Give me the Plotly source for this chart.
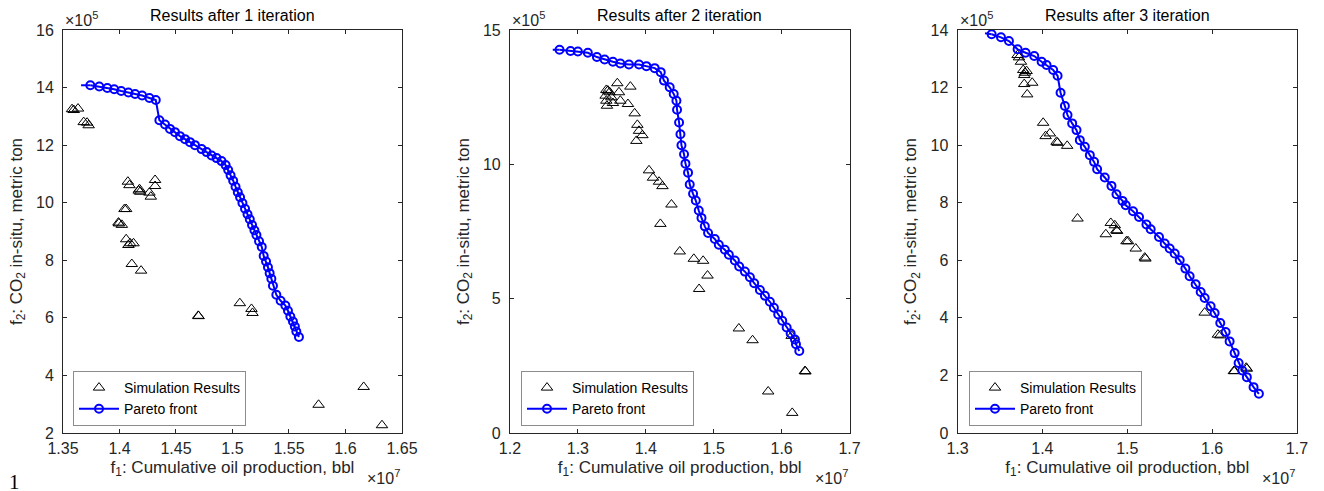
import plotly.graph_objects as go

# ---------------- data (x in 1e7 bbl, y in 1e5 metric ton) ----------------
titles = ["Results after 1 iteration", "Results after 2 iteration", "Results after 3 iteration"]

# Panel 1
sim1_x = [1.3580, 1.3595, 1.3633, 1.3683, 1.3713, 1.3727,
          1.4074, 1.4088, 1.4177, 1.4183, 1.4170, 1.4315, 1.4315, 1.4265, 1.4277,
          1.4044, 1.4059, 1.3991, 1.4021, 1.3995, 1.4059, 1.4094, 1.4124, 1.4079,
          1.4109, 1.4191, 1.4697, 1.4700, 1.5065, 1.5168, 1.5177, 1.6161, 1.5762, 1.6323]
sim1_y = [13.25, 13.22, 13.27, 12.80, 12.78, 12.69,
          10.73, 10.61, 10.47, 10.38, 10.42, 10.79, 10.58, 10.35, 10.21,
          9.78, 9.78, 9.31, 9.23, 9.28, 8.73, 8.59, 8.59, 8.53,
          7.87, 7.64, 6.07, 6.06, 6.51, 6.31, 6.17, 3.60, 2.98, 2.27]
lead1 = [1.366, 14.08]
front1_x = [1.3742, 1.3821, 1.3892, 1.3953, 1.4015, 1.4079, 1.4138, 1.4200, 1.4265, 1.4321,
            1.4353, 1.4403, 1.4447, 1.4491, 1.4535, 1.4580, 1.4624, 1.4668, 1.4727, 1.4771,
            1.4815, 1.4859, 1.4903, 1.4939, 1.4962, 1.4983, 1.5006, 1.5027, 1.5047, 1.5067,
            1.5088, 1.5111, 1.5133, 1.5153, 1.5173, 1.5194, 1.5212, 1.5235, 1.5259, 1.5276,
            1.5297, 1.5314, 1.5329, 1.5344, 1.5358, 1.5388, 1.5426, 1.5468, 1.5491, 1.5512,
            1.5535, 1.5552, 1.5565, 1.5588]
front1_y = [14.08, 14.035, 13.986, 13.941, 13.882, 13.827, 13.778, 13.723, 13.640, 13.570,
            12.867, 12.718, 12.565, 12.451, 12.312, 12.208, 12.104, 12.000, 11.862, 11.758,
            11.643, 11.550, 11.446, 11.307, 11.134, 10.950, 10.763, 10.555, 10.361, 10.187,
            9.990, 9.792, 9.598, 9.425, 9.227, 9.044, 8.881, 8.662, 8.465, 8.153,
            7.955, 7.761, 7.553, 7.356, 7.113, 6.801, 6.593, 6.430, 6.247, 6.049,
            5.876, 5.702, 5.529, 5.335]

# Panel 2
sim2_x = [1.3419, 1.3442, 1.3409, 1.3419, 1.3428, 1.3468, 1.3493, 1.3516, 1.3581, 1.3605,
          1.3625, 1.3773, 1.3737, 1.3836, 1.3876, 1.3900, 1.3950, 1.3861, 1.4047, 1.4106,
          1.4195, 1.4245, 1.4378, 1.4215, 1.4500, 1.4707, 1.4844, 1.4909, 1.4785, 1.5370,
          1.5572, 1.6148, 1.6343, 1.6350, 1.5802, 1.6156]
sim2_y = [12.769, 12.743, 12.555, 12.368, 12.181, 12.683, 12.495, 12.282, 13.019, 12.683,
          12.368, 12.892, 12.245, 11.897, 11.470, 11.246, 11.085, 10.872, 9.776, 9.502,
          9.353, 9.188, 8.504, 7.782, 6.757, 6.483, 6.409, 5.859, 5.361, 3.891,
          3.453, 3.614, 2.305, 2.290, 1.545, 0.748]
lead2 = [1.263, 14.265]
front2_x = [1.2730, 1.2892, 1.3000, 1.3147, 1.3280, 1.3394, 1.3516, 1.3625, 1.3752, 1.3900,
            1.4009, 1.4131, 1.4220, 1.4268, 1.4352, 1.4411, 1.4451, 1.4460, 1.4490, 1.4510,
            1.4525, 1.4563, 1.4584, 1.4622, 1.4647, 1.4696, 1.4736, 1.4780, 1.4820, 1.4869,
            1.4917, 1.5016, 1.5075, 1.5164, 1.5223, 1.5311, 1.5375, 1.5459, 1.5533, 1.5596,
            1.5680, 1.5754, 1.5827, 1.5886, 1.5950, 1.6009, 1.6074, 1.6133, 1.6196, 1.6211,
            1.6260]
front2_y = [14.265, 14.216, 14.201, 14.153, 13.992, 13.902, 13.816, 13.752, 13.715, 13.715,
            13.655, 13.580, 13.431, 13.116, 12.869, 12.619, 12.368, 12.032, 11.560, 11.122,
            10.711, 10.374, 10.026, 9.690, 9.252, 8.904, 8.653, 8.279, 8.006, 7.692,
            7.445, 7.220, 7.007, 6.820, 6.633, 6.420, 6.195, 6.008, 5.799, 5.574,
            5.324, 5.110, 4.886, 4.661, 4.415, 4.175, 3.928, 3.704, 3.479, 3.303,
            3.053]

# Panel 3
sim3_x = [1.3708, 1.3724, 1.3747, 1.3774, 1.3794, 1.3786, 1.3814, 1.3786, 1.3880, 1.3821,
          1.4009, 1.4038, 1.4088, 1.4167, 1.4179, 1.4292, 1.4414, 1.4806, 1.4853, 1.4747,
          1.4873, 1.4880, 1.4991, 1.5009, 1.5100, 1.5206, 1.5214, 1.5912, 1.6068, 1.6096,
          1.6256, 1.6265, 1.6402, 1.6409]
sim3_y = [13.130, 13.050, 12.897, 12.609, 12.515, 12.435, 12.574, 12.122, 12.167, 11.763,
          10.776, 10.313, 10.407, 10.115, 10.080, 9.976, 7.450, 7.297, 7.217, 6.904,
          7.043, 7.019, 6.661, 6.661, 6.407, 6.094, 6.059, 4.181, 3.416, 3.391,
          2.150, 2.150, 2.268, 2.233]
lead3 = [1.3324, 13.885]
front3_x = [1.3402, 1.3512, 1.3606, 1.3708, 1.3802, 1.3904, 1.3991, 1.4049, 1.4127, 1.4179,
            1.4214, 1.4265, 1.4296, 1.4351, 1.4402, 1.4441, 1.4500, 1.4559, 1.4609, 1.4645,
            1.4735, 1.4814, 1.4873, 1.4944, 1.4982, 1.5068, 1.5139, 1.5226, 1.5276, 1.5374,
            1.5441, 1.5500, 1.5559, 1.5618, 1.5685, 1.5735, 1.5806, 1.5865, 1.5912, 1.5982,
            1.6029, 1.6096, 1.6159, 1.6206, 1.6265, 1.6312, 1.6355, 1.6409, 1.6488, 1.6551]
front3_y = [13.850, 13.746, 13.617, 13.329, 13.210, 13.096, 12.897, 12.783, 12.609, 12.410,
            11.819, 11.357, 11.043, 10.755, 10.522, 10.174, 9.941, 9.652, 9.419, 9.165,
            8.877, 8.584, 8.296, 8.063, 7.913, 7.704, 7.506, 7.242, 7.078, 6.810,
            6.581, 6.407, 6.233, 6.000, 5.711, 5.443, 5.165, 4.897, 4.689, 4.400,
            4.167, 3.819, 3.506, 3.183, 2.776, 2.428, 2.174, 1.941, 1.593, 1.363]

# axes ticks
x1_ticks = [1.35, 1.40, 1.45, 1.50, 1.55, 1.60, 1.65]
x1_text = ["1.35", "1.4", "1.45", "1.5", "1.55", "1.6", "1.65"]
y1_ticks = [2, 4, 6, 8, 10, 12, 14, 16]
x2_ticks = [1.2, 1.3, 1.4, 1.5, 1.6, 1.7]
x2_text = ["1.2", "1.3", "1.4", "1.5", "1.6", "1.7"]
y2_ticks = [0, 5, 10, 15]
x3_ticks = [1.3, 1.4, 1.5, 1.6, 1.7]
x3_text = ["1.3", "1.4", "1.5", "1.6", "1.7"]
y3_ticks = [0, 2, 4, 6, 8, 10, 12, 14]

x_ranges = [[1.35, 1.65], [1.2, 1.7], [1.3, 1.7]]
y_ranges = [[2, 16], [0, 15], [0, 14]]

# ---------------- figure ----------------
W, H = 1324, 491
ML, MR, MT, MB = 63, 27, 30, 58
PW, PH = W - ML - MR, H - MT - MB
BOT = H - MB  # pixel row of the x axes
FONT = "Liberation Sans, Arial, Helvetica, sans-serif"
TXT = "#262626"


def py(p):
    """pixel row -> paper y"""
    return (BOT - p) / PH


def px(p):
    """pixel column -> paper x"""
    return (p - ML) / PW


domains = [[0.0, 0.2747], [0.3622, 0.6374], [0.7249, 1.0]]

panels = [
    (sim1_x, sim1_y, lead1, front1_x, front1_y, x1_ticks, x1_text, y1_ticks),
    (sim2_x, sim2_y, lead2, front2_x, front2_y, x2_ticks, x2_text, y2_ticks),
    (sim3_x, sim3_y, lead3, front3_x, front3_y, x3_ticks, x3_text, y3_ticks),
]

fig = go.Figure()
BLUE = "rgb(0,0,255)"

for i, (sx, sy, lead, fx, fy, xt, xtt, yt) in enumerate(panels):
    s = "" if i == 0 else str(i + 1)
    lg = "legend" + s
    fig.add_trace(go.Scatter(
        x=sx, y=sy, mode="markers", name="Simulation Results",
        marker=dict(symbol="triangle-up-open", size=10, color="black", line=dict(width=1, color="black")),
        xaxis="x" + s, yaxis="y" + s, legend=lg))
    fig.add_trace(go.Scatter(
        x=[lead[0], fx[0]], y=[lead[1], fy[0]], mode="lines", showlegend=False,
        line=dict(color=BLUE, width=2), xaxis="x" + s, yaxis="y" + s, hoverinfo="skip"))
    fig.add_trace(go.Scatter(
        x=fx, y=fy, mode="lines+markers", name="Pareto front",
        line=dict(color=BLUE, width=2),
        marker=dict(symbol="circle-open", size=8, color=BLUE, line=dict(width=2, color=BLUE)),
        xaxis="x" + s, yaxis="y" + s, legend=lg))

    axis_common = dict(showline=True, linecolor=TXT, linewidth=1, mirror="ticks",
                       ticks="inside", ticklen=4, tickwidth=1, tickcolor=TXT,
                       showgrid=False, zeroline=False, automargin=False,
                       tickfont=dict(family=FONT, size=16, color=TXT))
    fig.layout["xaxis" + s] = dict(
        axis_common, domain=domains[i], range=x_ranges[i], anchor="y" + s,
        tickvals=xt, ticktext=xtt, ticklabelstandoff=1,
        title=dict(text="f<sub>1</sub>: Cumulative oil production, bbl",
                   font=dict(family=FONT, size=17, color=TXT), standoff=4))
    fig.layout["yaxis" + s] = dict(
        axis_common, domain=[0, 1], range=y_ranges[i], anchor="x" + s,
        tickvals=yt, ticktext=[str(v) for v in yt], ticklabelstandoff=5,
        title=dict(text="f<sub>2</sub>: CO<sub>2</sub> in-situ, metric ton",
                   font=dict(family=FONT, size=17, color=TXT), standoff=9))

    # legend
    lx_px = [73, 521, 969][i]
    fig.layout[lg] = dict(
        x=px(lx_px), y=py(426),
        xanchor="left", yanchor="bottom",
        bordercolor="#8c8c8c", borderwidth=1, bgcolor="white",
        font=dict(family=FONT, size=14, color="black"),
        tracegroupgap=0, itemwidth=40)

    d0, d1 = domains[i]
    # title
    fig.add_annotation(text=titles[i], xref="paper", yref="paper",
                       x=(d0 + d1) / 2, y=py(16), xanchor="center", yanchor="middle",
                       showarrow=False, font=dict(family=FONT, size=16, color="black"))
    # exponent labels
    fig.add_annotation(text="\u00d710<sup>5</sup>", xref="paper", yref="paper",
                       x=d0, y=py(19), xanchor="left", yanchor="middle",
                       showarrow=False, font=dict(family=FONT, size=16, color=TXT))
    fig.add_annotation(text="\u00d710<sup>7</sup>", xref="paper", yref="paper",
                       x=d1, y=py(477), xanchor="right", yanchor="middle",
                       showarrow=False, font=dict(family=FONT, size=16, color=TXT))

# figure number
fig.add_annotation(text="1", xref="paper", yref="paper",
                   x=px(14), y=py(482), xanchor="center", yanchor="middle",
                   showarrow=False, font=dict(family="Liberation Serif, Times New Roman, serif", size=21, color="black"))

fig.update_layout(width=W, height=H, margin=dict(l=ML, r=MR, t=MT, b=MB),
                  paper_bgcolor="white", plot_bgcolor="white", showlegend=True)

fig.write_html("out.html", config={"displayModeBar": False},
               post_script="document.body.style.margin='0';document.body.style.padding='0';")
